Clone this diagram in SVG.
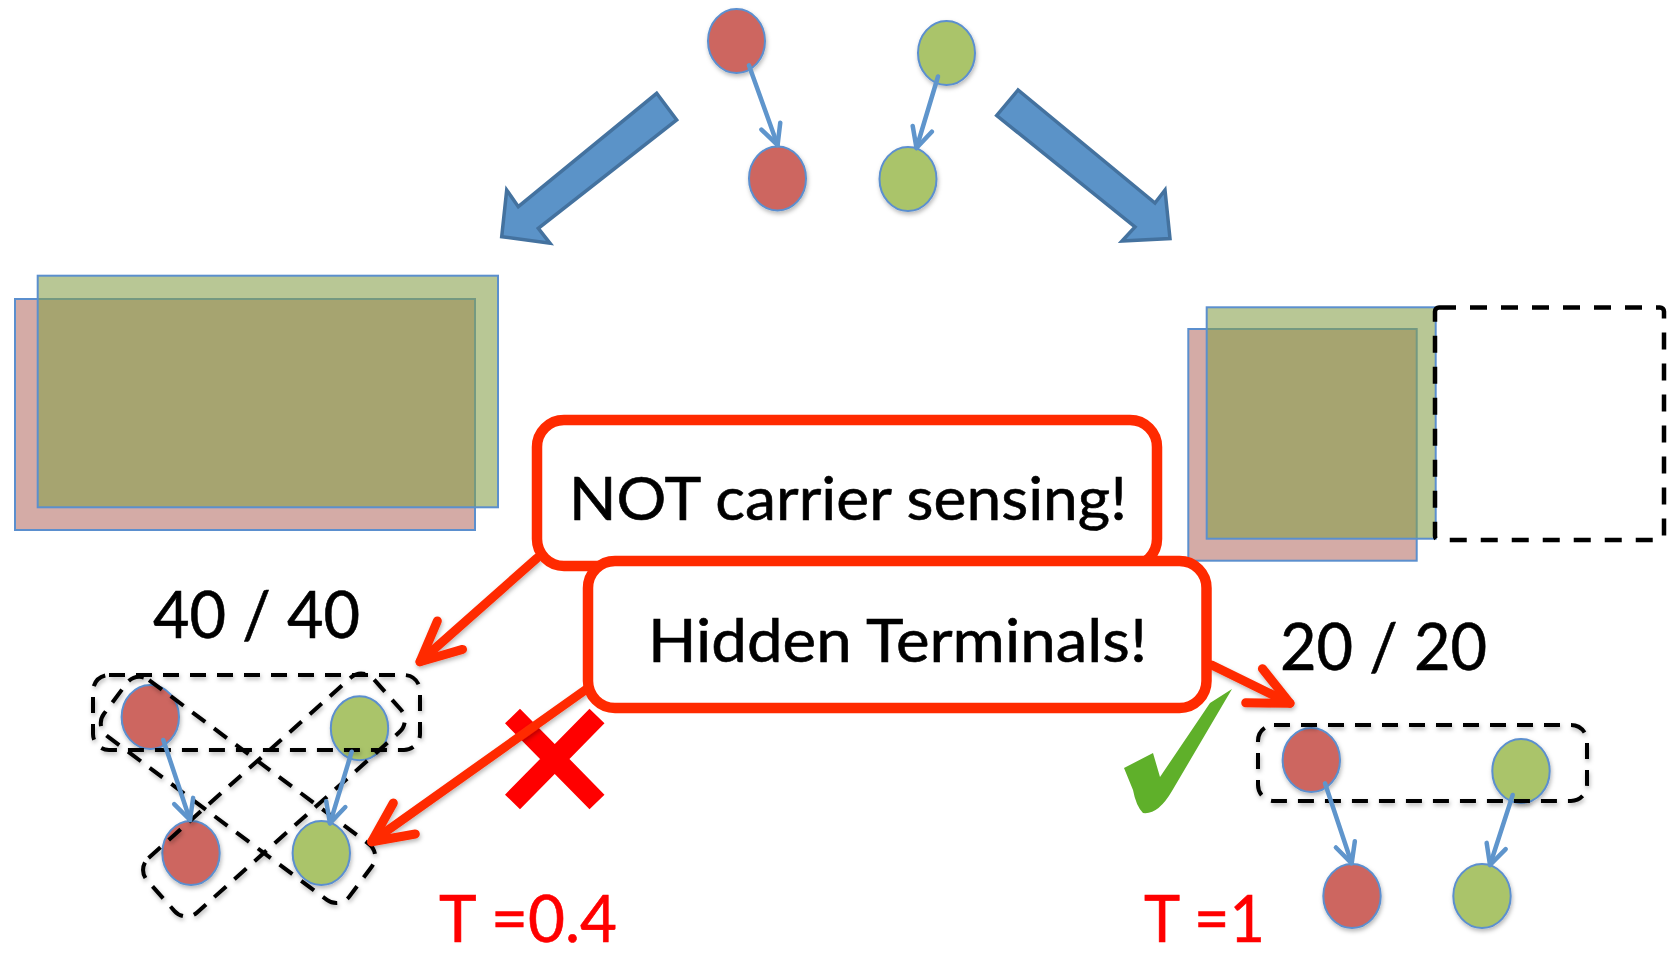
<svg xmlns="http://www.w3.org/2000/svg" width="1669" height="953" viewBox="0 0 1669 953">
<defs>
<style>
.rn{fill:#cd6660;stroke:#5b8fcf;stroke-width:2}
.gn{fill:#aac46b;stroke:#5b8fcf;stroke-width:2}
.bl{fill:none;stroke:#5f95cc;stroke-width:4.5;stroke-linecap:round;marker-end:url(#ba)}
.red{fill:none;stroke:#ff2a00;stroke-width:9;stroke-linecap:round;marker-end:url(#ra)}
.dash{fill:none;stroke:#000;stroke-width:4;stroke-dasharray:16 11}
.big{fill:#5b93c8;stroke:#44729f;stroke-width:3.5;stroke-linejoin:miter}
.box{fill:#fff;stroke:#ff2a00;stroke-width:10.5}
.rr{fill:#d4aba6;stroke:#5b8fce;stroke-width:2}
.gr{fill:rgb(135,160,75);fill-opacity:0.59;stroke:#5b8fce;stroke-width:2}
.t{font-family:Lato,"Liberation Sans",sans-serif;fill:#000;stroke:#000;stroke-width:0.6}
.tr{font-family:Lato,"Liberation Sans",sans-serif;fill:#ff0000;stroke:#ff0000;stroke-width:0.6}
</style>
<filter id="sh" x="-20%" y="-20%" width="140%" height="140%"><feDropShadow dx="1" dy="2.5" stdDeviation="2" flood-color="#000" flood-opacity="0.28"/></filter>
<marker id="ba" viewBox="-3 -3 28 26" refX="20" refY="10" markerWidth="28" markerHeight="26" markerUnits="userSpaceOnUse" orient="auto">
<path d="M0,0 L20,10 L0,20" fill="none" stroke="#5f95cc" stroke-width="4.5" stroke-linecap="round" stroke-linejoin="round"/>
</marker>
<marker id="ra" viewBox="-6 -6 52 50" refX="40" refY="19" markerWidth="52" markerHeight="50" markerUnits="userSpaceOnUse" orient="auto">
<path d="M0,0 L40,19 L0,38" fill="none" stroke="#ff2a00" stroke-width="9" stroke-linecap="round" stroke-linejoin="round"/>
</marker>
</defs>
<rect width="1669" height="953" fill="#fff"/>

<g id="left-ranges">
<rect class="rr" x="15" y="299" width="460" height="231"/>
<rect class="gr" x="37.7" y="275.7" width="460.3" height="231.6"/>
</g>
<g id="right-ranges">
<rect class="rr" x="1188.3" y="329" width="228.4" height="231.7"/>
<rect class="gr" x="1206.7" y="307.3" width="229" height="231.4"/>
<rect x="1435" y="307.5" width="229" height="232.5" rx="4" fill="none" stroke="#000" stroke-width="4.5" stroke-dasharray="17 14"/>
</g>

<g id="block-arrows">
<polygon class="big" points="656.7,93.3 676.7,120 538.3,228.3 550,243.3 501.7,236.7 506.7,190 518.3,206.7"/>
<polygon class="big" points="1018,90 996.7,115.5 1135,227 1122,241 1170,238.5 1165,190 1155,203"/>
</g>

<g id="top-red-1" filter="url(#sh)"><ellipse class="rn" cx="736.5" cy="41" rx="28.5" ry="32"/></g>
<g id="top-red-2" filter="url(#sh)"><ellipse class="rn" cx="777.5" cy="178.5" rx="28.5" ry="32"/></g>
<g id="top-green-1" filter="url(#sh)"><ellipse class="gn" cx="946.5" cy="53" rx="28.5" ry="32"/></g>
<g id="top-green-2" filter="url(#sh)"><ellipse class="gn" cx="908" cy="179" rx="28.5" ry="32"/></g>

<g id="left-red-1" filter="url(#sh)"><ellipse class="rn" cx="150.3" cy="717" rx="28.7" ry="32"/></g>
<g id="left-green-1" filter="url(#sh)"><ellipse class="gn" cx="359.5" cy="728.3" rx="28.7" ry="32"/></g>
<g id="left-red-2" filter="url(#sh)"><ellipse class="rn" cx="191" cy="853" rx="28.7" ry="32"/></g>
<g id="left-green-2" filter="url(#sh)"><ellipse class="gn" cx="321.3" cy="853" rx="28.7" ry="32"/></g>

<g id="right-red-1" filter="url(#sh)"><ellipse class="rn" cx="1311.3" cy="760" rx="28.7" ry="32"/></g>
<g id="right-green-1" filter="url(#sh)"><ellipse class="gn" cx="1521" cy="771" rx="28.7" ry="32"/></g>
<g id="right-red-2" filter="url(#sh)"><ellipse class="rn" cx="1352" cy="896" rx="28.7" ry="32"/></g>
<g id="right-green-2" filter="url(#sh)"><ellipse class="gn" cx="1482" cy="896" rx="28.7" ry="32"/></g>

<g id="left-groups" filter="url(#sh)">
<rect class="dash" x="93" y="675" width="327" height="75" rx="16"/>
<rect class="dash" x="-153" y="-35" width="306" height="70" rx="16" transform="translate(238,790) rotate(36.7)"/>
<rect class="dash" x="-151.5" y="-36.5" width="303" height="73" rx="16" transform="translate(274,795) rotate(-41.7)"/>
</g>
<g id="right-group" filter="url(#sh)">
<rect class="dash" x="1258" y="725" width="329" height="76" rx="16"/>
</g>

<g id="cross-mark">
<path d="M512.5,716 L597,802 M597,716 L512.5,802" stroke="#ff0000" stroke-width="21" fill="none"/>
</g>
<g id="check-mark">
<path d="M1124,768 L1153,753 L1160,777 L1210,703 L1232,689 L1172,791 Q1158,815 1143,813 Q1136,806 1133,790 Z" fill="#5fb02a"/>
</g>

<g id="connectors">
<path class="bl" d="M749,65.4 L777.6,145"/>
<path class="bl" d="M938,76.5 L916.5,148"/>
<path class="bl" d="M163.3,740 L190,820"/>
<path class="bl" d="M351.7,751.7 L330,823.3"/>
<path class="bl" d="M1325,783.3 L1351.7,863.3"/>
<path class="bl" d="M1512.7,795 L1490,865"/>
<g filter="url(#sh)">
<path class="red" d="M536.7,558.3 L420,661.7"/>
<path class="red" d="M590,686.7 L371.7,841.7"/>
<path class="red" d="M1211.7,665 L1290,703.3"/>
</g>
</g>

<g id="box-not-carrier">
<rect class="box" x="537" y="420" width="620" height="146" rx="27"/>
<text class="t" x="569" y="520" font-size="60" textLength="558" lengthAdjust="spacingAndGlyphs">NOT carrier sensing!</text>
</g>
<g id="box-hidden">
<rect class="box" x="588" y="561" width="618.5" height="147" rx="27"/>
<text class="t" x="648" y="662" font-size="60" textLength="499" lengthAdjust="spacingAndGlyphs">Hidden Terminals!</text>
</g>

<g id="labels">
<text class="t" x="153" y="638" font-size="65" textLength="207" lengthAdjust="spacingAndGlyphs">40 / 40</text>
<text class="t" x="1280" y="670" font-size="66" textLength="207" lengthAdjust="spacingAndGlyphs">20 / 20</text>
<text class="tr" x="439" y="942" font-size="65" textLength="178" lengthAdjust="spacingAndGlyphs">T =0.4</text>
<text class="tr" x="1144" y="942" font-size="65" textLength="121" lengthAdjust="spacingAndGlyphs">T =1</text>
</g>
</svg>
